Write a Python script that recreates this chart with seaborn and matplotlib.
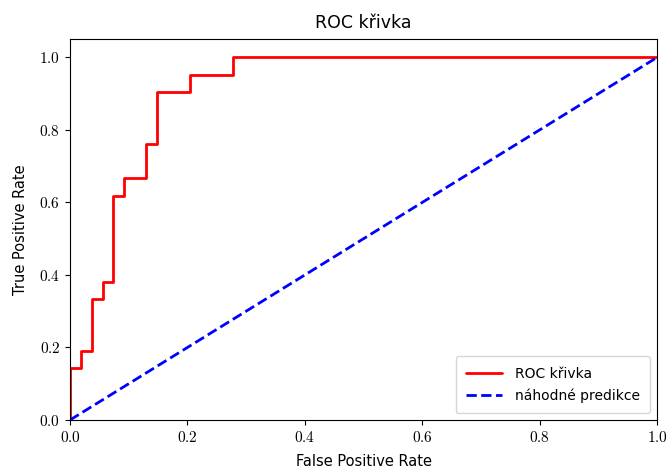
import matplotlib
matplotlib.use("Agg")
import matplotlib.pyplot as plt
import seaborn as sns
import pandas as pd
from matplotlib.ticker import FuncFormatter

sns.set_style("ticks")
plt.rcParams['font.family'] = ['DejaVu Sans']
plt.rcParams['mathtext.fontset'] = 'cm'
plt.rcParams['text.color'] = 'black'
plt.rcParams['axes.labelcolor'] = 'black'
plt.rcParams['xtick.color'] = 'black'
plt.rcParams['ytick.color'] = 'black'

fpr = [0.0, 0.0, 0.0185, 0.0185, 0.037, 0.037, 0.0556, 0.0556, 0.0741, 0.0741,
       0.0926, 0.0926, 0.1296, 0.1296, 0.1481, 0.1481, 0.2037, 0.2037, 0.2778, 0.2778, 1.0]
tpr = [0.0, 0.1429, 0.1429, 0.1905, 0.1905, 0.3333, 0.3333, 0.381, 0.381, 0.619,
       0.619, 0.6667, 0.6667, 0.7619, 0.7619, 0.9048, 0.9048, 0.9524, 0.9524, 1.0, 1.0]
rand_x = [0.0, 1.0]
rand_y = [0.0, 1.0]
roc_label = "ROC křivka"
rand_label = "náhodné predikce"

roc_df = pd.DataFrame({"fpr": fpr, "tpr": tpr})
rand_df = pd.DataFrame({"x": rand_x, "y": rand_y})

fig, ax = plt.subplots(figsize=(6.7, 4.68), dpi=100)
fig.subplots_adjust(left=70/670, right=657/670, top=1-39.3/468, bottom=1-420/468)

sns.lineplot(data=roc_df, x="fpr", y="tpr", sort=False, estimator=None,
             color="red", lw=2, label=roc_label, ax=ax)
sns.lineplot(data=rand_df, x="x", y="y", sort=False, estimator=None,
             color="blue", lw=2, linestyle="--", label=rand_label, ax=ax)

ax.set_xlim(0.0, 1.0)
ax.set_ylim(0.0, 1.05)
fmt = FuncFormatter(lambda v, p: f"${v:.1f}$")
ax.xaxis.set_major_formatter(fmt)
ax.yaxis.set_major_formatter(fmt)
ax.tick_params(labelsize=11)
ax.set_xlabel("False Positive Rate", fontsize=10.5, labelpad=6.5)
ax.set_ylabel("True Positive Rate", fontsize=10.5, labelpad=8)
ax.set_title("ROC křivka", fontsize=12.5, pad=8)
ax.legend(loc="lower right", fontsize=10, handlelength=2.6, handletextpad=0.9,
          borderpad=0.75, labelspacing=0.55)
for s in ax.spines.values():
    s.set_visible(True)
    s.set_color("black")

fig.savefig("out.png", dpi=100)
